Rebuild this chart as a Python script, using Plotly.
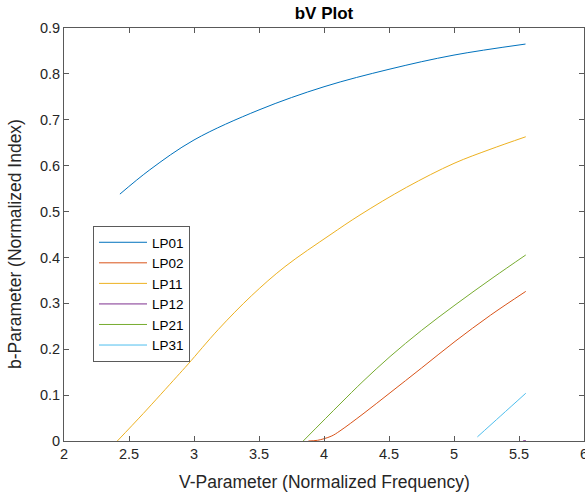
import plotly.graph_objects as go

# ---- data ----
lp01_v = [2.43, 2.66, 3.0, 3.5, 4.0, 4.5, 5.0, 5.55]
lp01_b = [0.538, 0.591, 0.656, 0.7215, 0.772, 0.810, 0.841, 0.865]

lp02_v = [3.88, 3.95, 4.0, 4.06, 4.123, 4.3, 4.508, 4.75, 5.008, 5.28, 5.552]
lp02_b = [0.0, 0.0015, 0.005, 0.011, 0.022, 0.059, 0.105, 0.159, 0.217, 0.274, 0.326]

lp11_v = [2.41, 2.61, 2.867, 2.956, 3.187, 3.444, 3.70, 4.046, 4.277, 4.636, 5.0, 5.277, 5.552]
lp11_b = [0.0, 0.060, 0.140, 0.168, 0.243, 0.317, 0.380, 0.449, 0.4926, 0.553, 0.605, 0.6355, 0.663]

lp12_v = [5.53, 5.552]
lp12_b = [0.0, 0.001]

lp21_v = [3.84, 4.123, 4.30, 4.508, 4.75, 5.008, 5.3, 5.552]
lp21_b = [0.0, 0.0806, 0.130, 0.184, 0.241, 0.2964, 0.356, 0.4054]

lp31_v = [5.18, 5.36, 5.552]
lp31_b = [0.009, 0.055, 0.104]

mode_names = ["LP01", "LP02", "LP11", "LP12", "LP21", "LP31"]
mode_colors = ["#0072BD", "#D95319", "#EDB120", "#7E2F8E", "#77AC30", "#4DBEEE"]

x_ticks = [2, 2.5, 3, 3.5, 4, 4.5, 5, 5.5, 6]
x_tick_text = ["2", "2.5", "3", "3.5", "4", "4.5", "5", "5.5", "6"]
y_ticks = [0, 0.1, 0.2, 0.3, 0.4, 0.5, 0.6, 0.7, 0.8, 0.9]
y_tick_text = ["0", "0.1", "0.2", "0.3", "0.4", "0.5", "0.6", "0.7", "0.8", "0.9"]

series = [(lp01_v, lp01_b), (lp02_v, lp02_b), (lp11_v, lp11_b),
          (lp12_v, lp12_b), (lp21_v, lp21_b), (lp31_v, lp31_b)]

fig = go.Figure()
for (v, b), name, col in zip(series, mode_names, mode_colors):
    fig.add_trace(go.Scatter(
        x=v, y=b, mode="lines", name=name,
        line=dict(color=col, width=1, shape="spline", smoothing=1.0),
    ))

axis_col = "#595959"
font_col = "#262626"
FONT = "Liberation Sans, Arial, sans-serif"

common_axis = dict(
    showline=True, linecolor=axis_col, linewidth=1, mirror="ticks",
    ticks="inside", ticklen=5, tickcolor=axis_col, tickwidth=1,
    showgrid=False, zeroline=False, ticklabeloverflow="allow", automargin=False,
    tickfont=dict(family=FONT, size=14.5, color=font_col),
)

fig.update_layout(
    width=585, height=494,
    margin=dict(l=64, r=1, t=28, b=53),
    paper_bgcolor="white", plot_bgcolor="white",
    font=dict(family=FONT, color=font_col),
    title=dict(text="<b>bV Plot</b>", x=0.5, xref="paper", xanchor="center",
               y=1 - 13 / 494, yref="container", yanchor="middle",
               font=dict(family=FONT, size=17, color="#000000")),
    xaxis=dict(range=[2, 6], tickvals=x_ticks, ticktext=x_tick_text, **common_axis),
    yaxis=dict(range=[0, 0.9], tickvals=y_ticks, ticktext=y_tick_text, **common_axis),
    showlegend=True,
    legend=dict(x=(93 - 64) / 520, y=(441 - 226) / 413, xanchor="left", yanchor="top",
                bgcolor="white", bordercolor="#5a5a5a", borderwidth=1,
                font=dict(family=FONT, size=13.5, color="#000000"),
                tracegroupgap=0, itemwidth=48),
    annotations=[
        dict(text="V-Parameter (Normalized Frequency)", xref="paper", yref="paper",
             x=0.5, y=(441 - 482) / 413, xanchor="center", yanchor="middle",
             showarrow=False, font=dict(family=FONT, size=17.5, color=font_col)),
        dict(text="b-Parameter (Normalized Index)", xref="paper", yref="paper",
             x=(15 - 64) / 520, y=(441 - 244) / 413, xanchor="center", yanchor="middle",
             textangle=-90,
             showarrow=False, font=dict(family=FONT, size=17.5, color=font_col)),
    ],
)

fig.write_html("out.html")
